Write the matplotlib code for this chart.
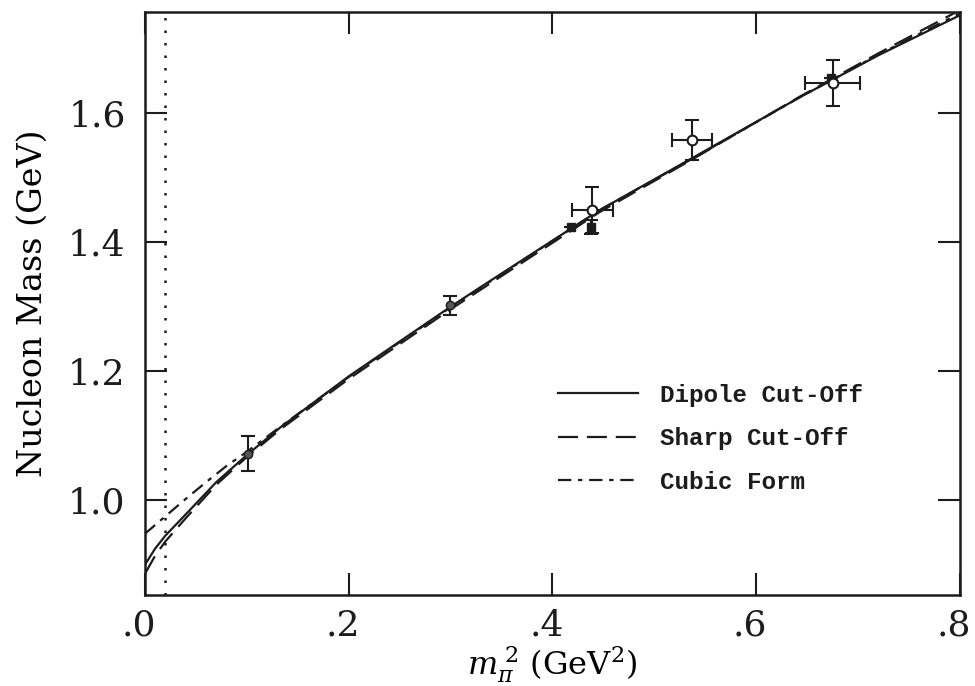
import matplotlib
matplotlib.use("Agg")
import matplotlib.pyplot as plt
from matplotlib.transforms import ScaledTranslation

ink = '#1c1c1c'
plt.rcParams['font.family'] = ['DejaVu Serif']
plt.rcParams['mathtext.fontset'] = 'dejavuserif'
plt.rcParams['text.color'] = ink
plt.rcParams['axes.edgecolor'] = ink
plt.rcParams['xtick.color'] = ink
plt.rcParams['ytick.color'] = ink

# fitted curves, M_N against m_pi^2
dipole_x = [0.0, 0.01, 0.02, 0.04, 0.07, 0.10, 0.133, 0.20, 0.30, 0.33, 0.4465, 0.54, 0.643, 0.72, 0.80]
dipole_y = [0.900, 0.925, 0.945, 0.978, 1.028, 1.070, 1.113, 1.192, 1.300, 1.331, 1.450, 1.533, 1.625, 1.690, 1.752]

sharp_x = [0.0, 0.01, 0.02, 0.04, 0.07, 0.10, 0.133, 0.20, 0.30, 0.4465, 0.54, 0.643, 0.72, 0.80]
sharp_y = [0.886, 0.914, 0.936, 0.972, 1.024, 1.067, 1.110, 1.188, 1.296, 1.447, 1.531, 1.626, 1.693, 1.760]

cubic_x = [0.0, 0.02, 0.04, 0.06, 0.08, 0.10, 0.133, 0.20, 0.30, 0.4465, 0.54, 0.643, 0.72, 0.80]
cubic_y = [0.948, 0.975, 1.002, 1.028, 1.053, 1.075, 1.114, 1.191, 1.299, 1.450, 1.532, 1.625, 1.691, 1.755]

# lattice points with vertical errors only
solid_pt_x = [0.101, 0.299]
solid_pt_y = [1.072, 1.302]
solid_pt_err = [0.027, 0.015]

# filled squares
sq_x = [0.418, 0.438, 0.673]
sq_y = [1.424, 1.424, 1.654]
sq_err = [0.0, 0.011, 0.0]

# open circles with errors in both directions
open_x = [0.439, 0.537, 0.675]
open_y = [1.450, 1.558, 1.647]
open_xerr = [0.020, 0.020, 0.027]
open_yerr = [0.036, 0.031, 0.035]

m_pi_phys_sq = 0.0195

fig = plt.figure(figsize=(9.75, 6.86), dpi=100)
ax = fig.add_axes([0.1487, 0.1327, 0.8359, 0.8498])

ax.plot(dipole_x, dipole_y, '-', color=ink, lw=1.6, label='Dipole Cut-Off')
ax.plot(sharp_x, sharp_y, color=ink, lw=1.6, dashes=(9, 4), label='Sharp Cut-Off')
ax.plot(cubic_x, cubic_y, color=ink, lw=1.6, dashes=(6, 3, 2, 3), label='Cubic Form')

ax.axvline(m_pi_phys_sq, color=ink, lw=1.8, linestyle=(0, (1, 4)))

ax.errorbar(solid_pt_x, solid_pt_y, yerr=solid_pt_err, fmt='o', ms=6, color=ink,
            mfc='#555555', mec=ink, capsize=5, elinewidth=1.5, capthick=1.5, zorder=5)
ax.errorbar(sq_x, sq_y, yerr=sq_err, fmt='s', ms=6, color=ink,
            capsize=5, elinewidth=1.5, capthick=1.5, zorder=5)
ax.errorbar(open_x, open_y, xerr=open_xerr, yerr=open_yerr, fmt='o', ms=7, color=ink,
            mfc='white', mec=ink, mew=1.5, capsize=5, elinewidth=1.5, capthick=1.5, zorder=6)

ax.set_xlim(0, 0.8)
ax.set_ylim(0.853, 1.757)
ax.set_xticks([0.0, 0.2, 0.4, 0.6, 0.8])
ax.set_xticklabels(['.0', '.2', '.4', '.6', '.8'])
ax.set_yticks([1.0, 1.2, 1.4, 1.6])
ax.set_yticklabels(['1.0', '1.2', '1.4', '1.6'])
ax.tick_params(direction='in', length=16, width=1.5, top=True, right=True,
               labelsize=26)
ax.tick_params(axis='x', pad=10)
ax.tick_params(axis='y', pad=14)
for side in ax.spines.values():
    side.set_linewidth(1.8)

# nudge the x tick labels left so the leading dot hangs before the tick
shift = ScaledTranslation(-6 / 100, 0, fig.dpi_scale_trans)
for lab in ax.get_xticklabels():
    lab.set_transform(lab.get_transform() + shift)

ax.set_ylabel('Nucleon Mass (GeV)', fontsize=24, labelpad=14)
ax.set_xlabel(r'$m_\pi^{\;2}$ (GeV$^2$)', fontsize=23, labelpad=1)

leg = ax.legend(loc='upper left', bbox_to_anchor=(0.48, 0.40), frameon=False,
                handlelength=3.3, handletextpad=0.9, labelspacing=0.85,
                prop={'family': 'Liberation Mono', 'weight': 'bold', 'size': 17.5})

plt.savefig('out.png', dpi=100)
plt.close()
